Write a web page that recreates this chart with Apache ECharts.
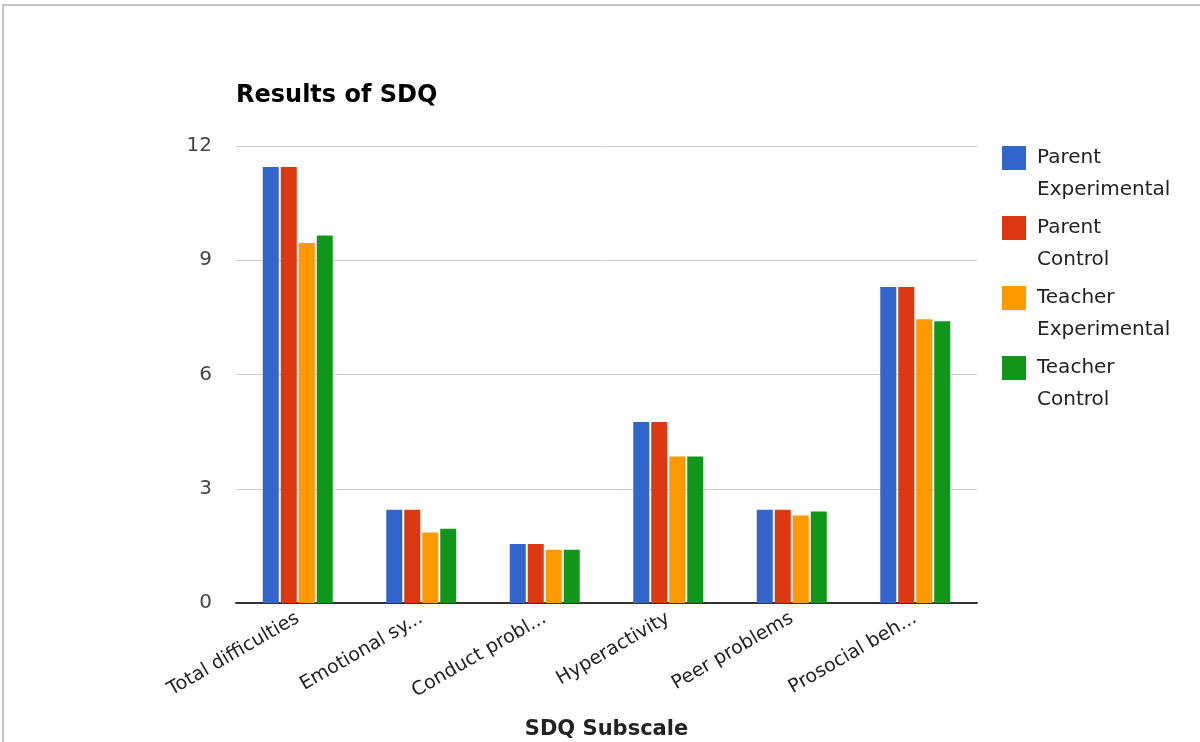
<!DOCTYPE html>
<html><head><meta charset="utf-8">
<script src="https://cdn.jsdelivr.net/npm/echarts@6/dist/echarts.min.js"></script>
<style>
html,body{margin:0;padding:0;background:#fff;}
#frame{position:absolute;left:2px;top:4px;width:1198px;height:738px;border-top:2px solid #c4c4c4;border-left:2px solid #c4c4c4;box-sizing:border-box;}
#c{position:absolute;left:0;top:0;width:1200px;height:742px;}
</style></head>
<body>
<div id="frame"></div>
<div id="c"></div>
<script>
const categories = ["Total difficulties","Emotional sy...","Conduct probl...","Hyperactivity","Peer problems","Prosocial beh..."];
const seriesNames = ["Parent Experimental","Parent Control","Teacher Experimental","Teacher Control"];
const parentExperimental = [11.45, 2.45, 1.55, 4.75, 2.45, 8.3];
const parentControl = [11.45, 2.45, 1.55, 4.75, 2.45, 8.3];
const teacherExperimental = [9.45, 1.85, 1.4, 3.85, 2.3, 7.45];
const teacherControl = [9.65, 1.95, 1.4, 3.85, 2.4, 7.4];
const yTicks = [0, 3, 6, 9, 12];
const colors = ["#3366cc","#dc3912","#ff9900","#109618"];
const values = [parentExperimental, parentControl, teacherExperimental, teacherControl];
const FONT = "DejaVu Sans";

const chart = echarts.init(document.getElementById('c'), null, {renderer:'canvas'});
chart.setOption({
  animation:false,
  title:{text:"Results of SDQ", left:231, top:79, textStyle:{fontFamily:FONT, fontSize:24, fontWeight:'bold', color:'#000'}},
  legend:{
    orient:'vertical', left:997, top:105, itemWidth:24, itemHeight:24, itemGap:-26,
    icon:'rect',
    data: seriesNames,
    formatter: n => '\n' + n.replace(' ', '\n'),
    textStyle:{fontFamily:FONT, fontSize:20, color:'#222', lineHeight:32, padding:[0,0,0,6]}
  },
  grid:{left:236, right:223, top:146, bottom:139, outerBoundsMode:'none', containLabel:false},
  xAxis:{
    type:'category', data:categories,
    axisLine:{lineStyle:{color:'#333', width:2}},
    axisTick:{show:false},
    axisLabel:{rotate:30, fontFamily:FONT, fontSize:19, color:'#222', margin:14, interval:0},
    name:"SDQ Subscale", nameLocation:'middle', nameGap:116,
    nameTextStyle:{fontFamily:FONT, fontSize:21, fontWeight:'bold', color:'#222'}
  },
  yAxis:{
    type:'value', min:yTicks[0], max:yTicks[yTicks.length-1], interval:3,
    axisLine:{show:false}, axisTick:{show:false},
    splitLine:{lineStyle:{color:'#cccccc', width:1}},
    axisLabel:{fontFamily:FONT, fontSize:20, color:'#444', margin:24}
  },
  series: seriesNames.map((n,i)=>({
    name:n, type:'bar', data:values[i], barWidth:16, barGap:'12.5%',
    itemStyle:{color:colors[i]}
  }))
});
</script>
</body></html>
